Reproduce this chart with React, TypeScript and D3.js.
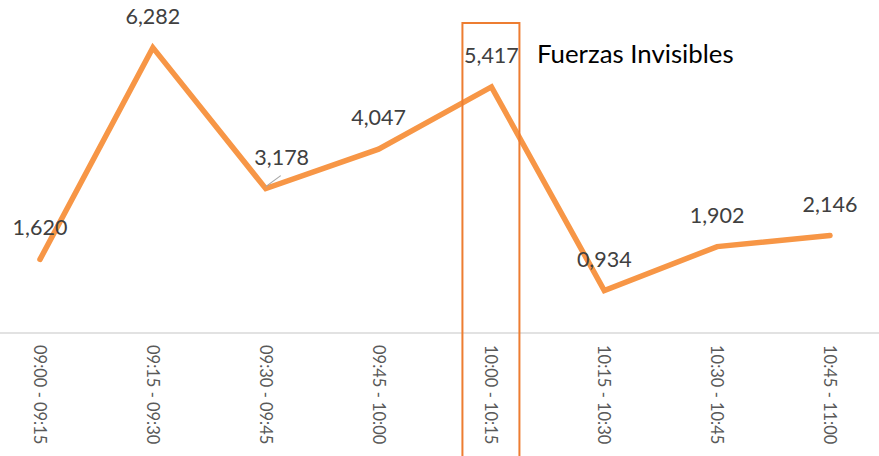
import { useEffect, useRef } from 'react';
import * as d3 from 'd3';

const categories = [
  '09:00 - 09:15',
  '09:15 - 09:30',
  '09:30 - 09:45',
  '09:45 - 10:00',
  '10:00 - 10:15',
  '10:15 - 10:30',
  '10:30 - 10:45',
  '10:45 - 11:00',
];
const values = [1.62, 6.282, 3.178, 4.047, 5.417, 0.934, 1.902, 2.146];
const valueLabels = ['1,620', '6,282', '3,178', '4,047', '5,417', '0,934', '1,902', '2,146'];
const highlightCategory = '10:00 - 10:15';
const annotation = 'Fuerzas Invisibles';

const W = 879;
const H = 456;
const FONT = 'Lato, "Open Sans", sans-serif';

export default function App() {
  const svgRef = useRef<SVGSVGElement>(null);

  useEffect(() => {
    if (!svgRef.current) return;
    const svg = d3.select(svgRef.current);
    svg.selectAll('*').remove();

    const axisY = 333;
    const x = d3.scalePoint<string>().domain(categories).range([40, 830]);
    const y = d3.scaleLinear().domain([0, 7.33]).range([axisY, 0]);

    // baseline
    svg
      .append('line')
      .attr('x1', 0)
      .attr('x2', W)
      .attr('y1', axisY)
      .attr('y2', axisY)
      .attr('stroke', '#d9d9d9')
      .attr('stroke-width', 1.5);

    // category labels, rotated
    svg
      .selectAll('.cat')
      .data(categories)
      .enter()
      .append('text')
      .attr('class', 'cat')
      .attr('transform', (d) => `translate(${x(d)},345) rotate(90)`)
      .attr('dominant-baseline', 'central')
      .attr('font-family', FONT)
      .attr('font-size', 16.5)
      .attr('fill', '#595959')
      .text((d) => d);

    const line = d3
      .line<number>()
      .x((_, i) => x(categories[i]) as number)
      .y((d) => y(d));

    svg
      .append('path')
      .datum(values)
      .attr('d', line)
      .attr('fill', 'none')
      .attr('stroke', '#f79646')
      .attr('stroke-width', 5.5)
      .attr('stroke-linejoin', 'miter')
      .attr('stroke-linecap', 'round');

    // leader line for the moved label
    const lx = x(categories[2]) as number;
    const ly = y(values[2]);
    svg
      .append('line')
      .attr('x1', lx)
      .attr('y1', ly - 2)
      .attr('x2', lx + 15)
      .attr('y2', ly - 13)
      .attr('stroke', '#a6a6a6')
      .attr('stroke-width', 1.2);

    svg
      .selectAll('.val')
      .data(values)
      .enter()
      .append('text')
      .attr('class', 'val')
      .attr('x', (_, i) => (x(categories[i]) as number) + (i === 2 ? 16 : 0))
      .attr('y', (d) => y(d) - 24)
      .attr('text-anchor', 'middle')
      .attr('font-family', FONT)
      .attr('font-size', 21.5)
      .attr('fill', '#404040')
      .text((_, i) => valueLabels[i]);

    // highlight box
    const hx = x(highlightCategory) as number;
    svg
      .append('rect')
      .attr('x', hx - 29)
      .attr('y', 23)
      .attr('width', 57)
      .attr('height', H - 23 + 4)
      .attr('fill', 'none')
      .attr('stroke', '#ed7d31')
      .attr('stroke-width', 2);

    svg
      .append('text')
      .attr('x', 537)
      .attr('y', 63)
      .attr('font-family', FONT)
      .attr('font-size', 25.8)
      .attr('fill', '#000000')
      .text(annotation);
  }, []);

  return (
    <svg
      ref={svgRef}
      width={W}
      height={H}
      style={{ position: 'absolute', left: 0, top: 0, background: '#fff' }}
    />
  );
}
